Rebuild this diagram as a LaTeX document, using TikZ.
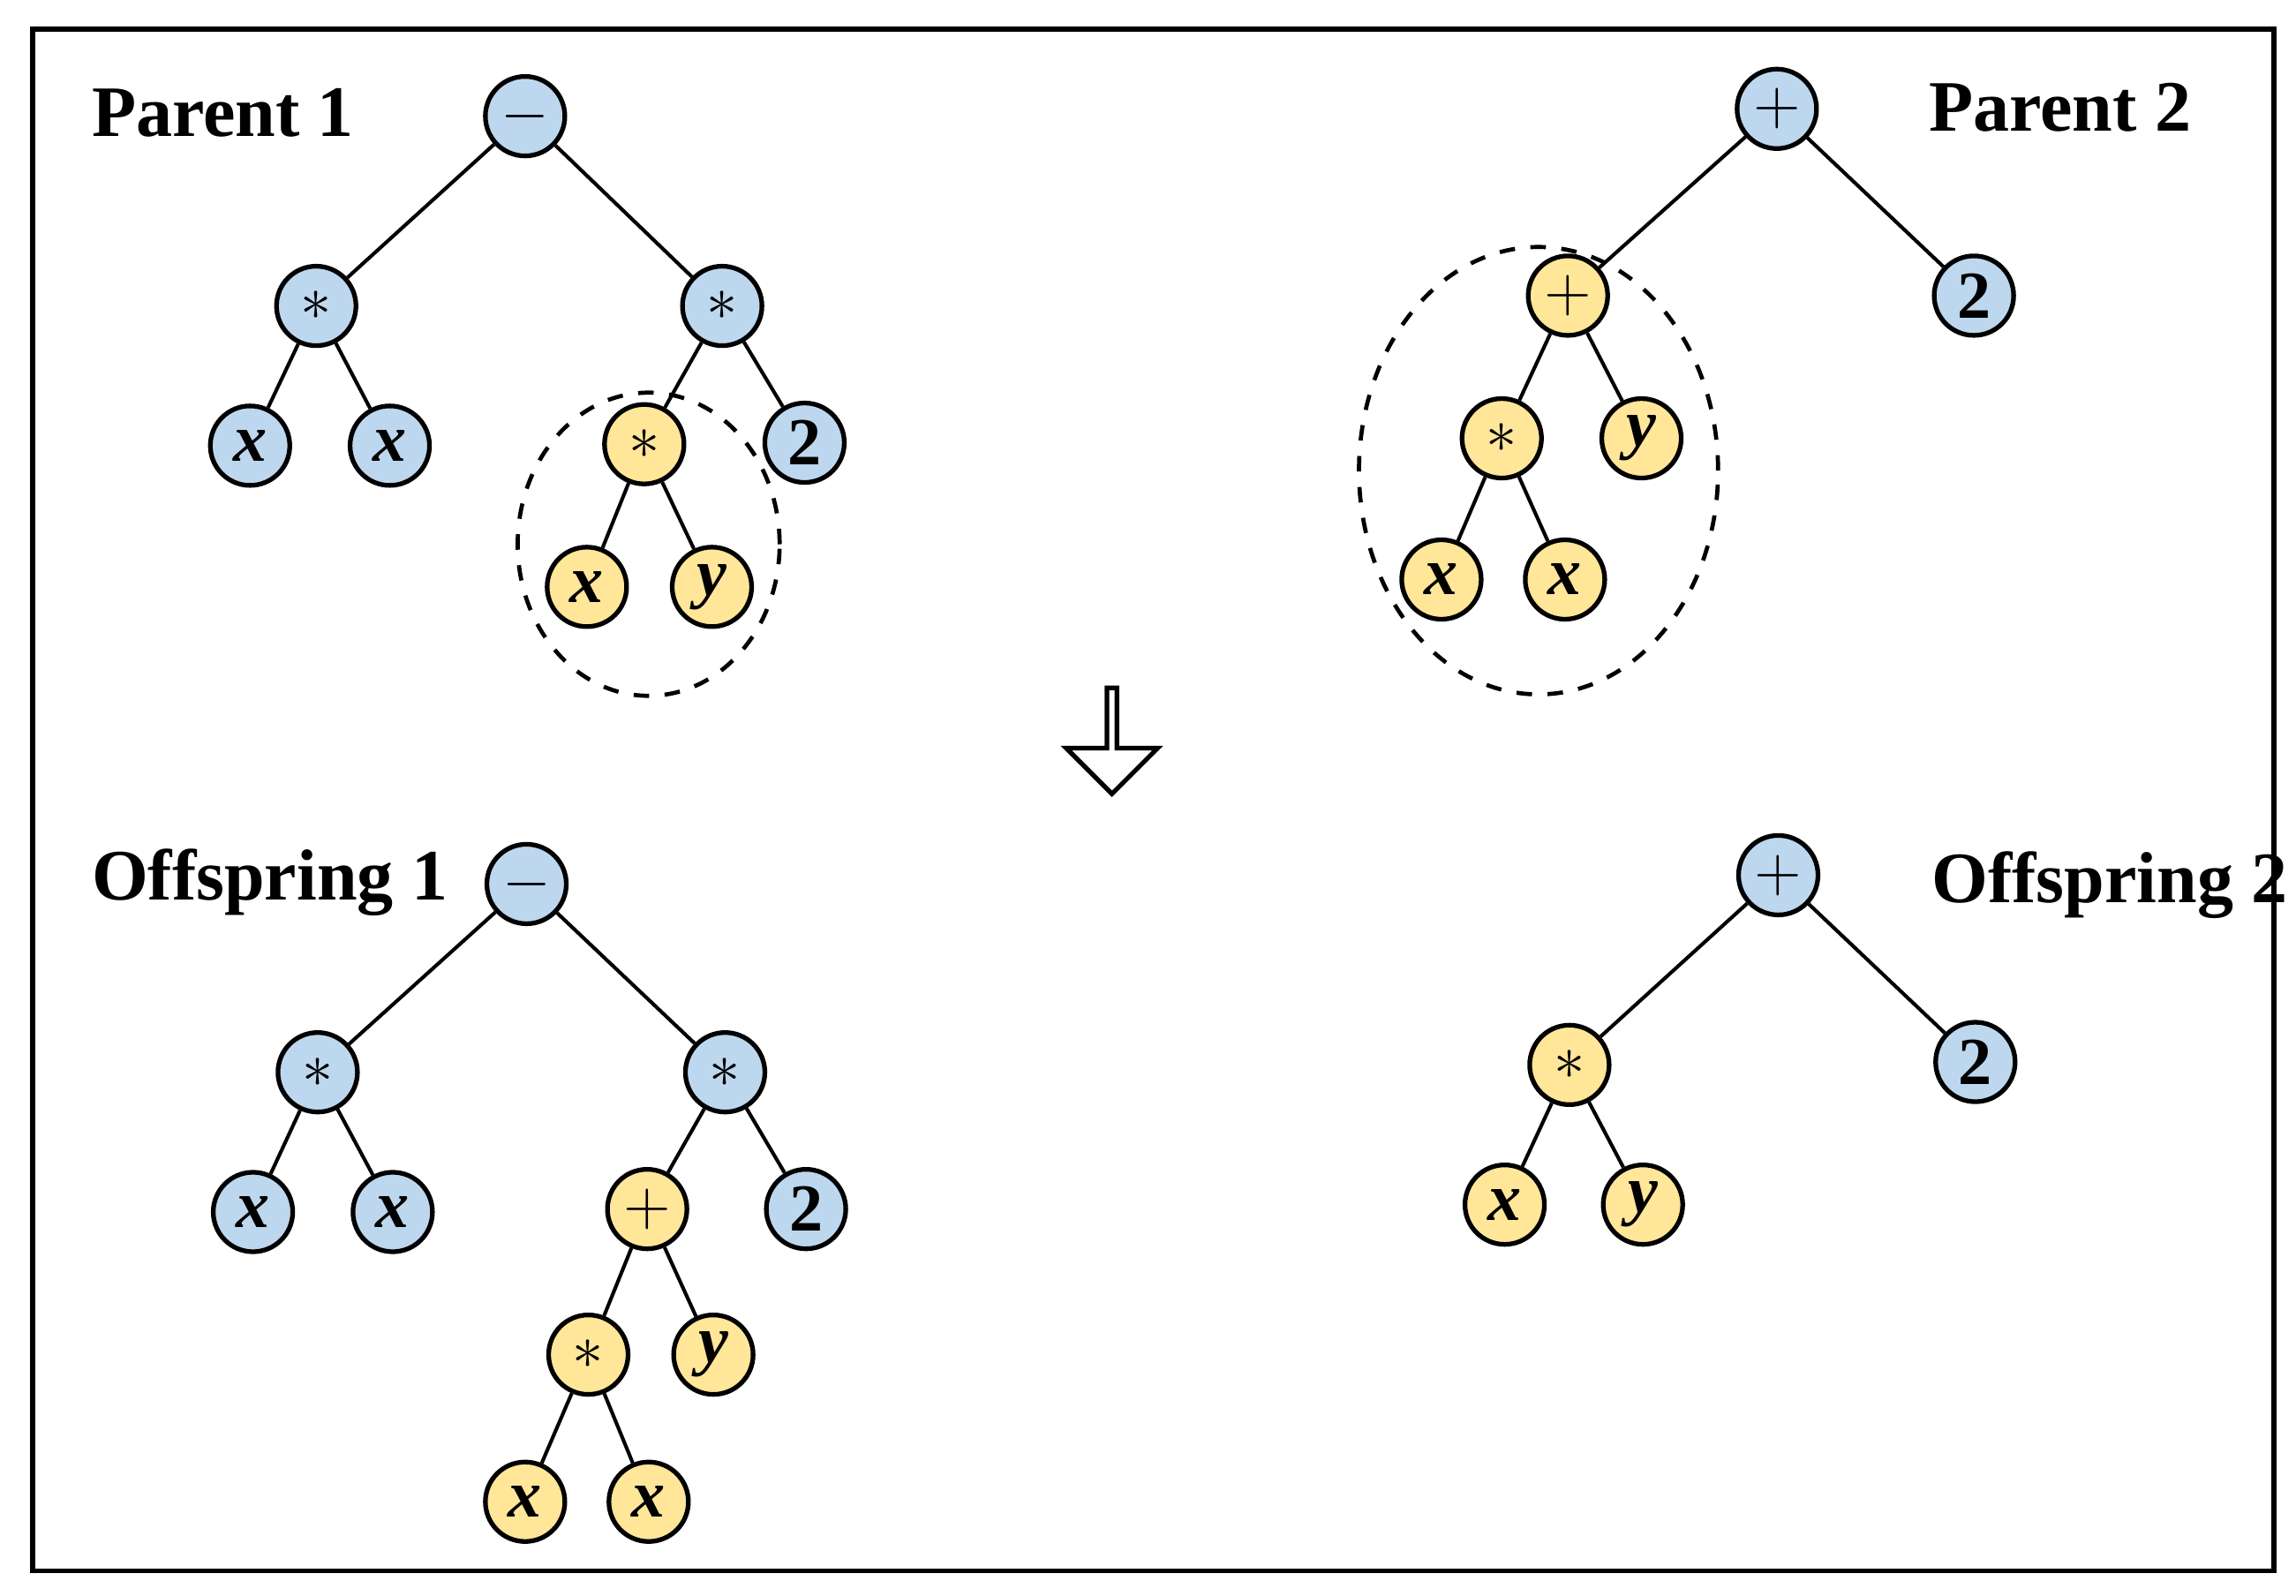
\documentclass[tikz,border=0pt]{standalone}
\usepackage{fontspec}
\setmainfont{Liberation Serif}
\usetikzlibrary{shapes.arrows,shapes.geometric}
\definecolor{bl}{HTML}{BDD7EE}
\definecolor{yl}{HTML}{FFE699}
\begin{document}
\begin{tikzpicture}[x=0.01cm,y=-0.01cm,
 n/.style={circle,draw,line width=0.9pt,minimum size=0.54cm,inner sep=0pt,font=\fontsize{13}{15}\selectfont\bfseries},
 bn/.style={n,fill=bl}, yn/.style={n,fill=yl},
 e/.style={line width=0.7pt},
 lab/.style={anchor=west,font=\fontsize{14}{16}\selectfont\bfseries},
 dsh/.style={dashed,line width=0.8pt}]
\useasboundingbox (0,0) rectangle (1561,1085);
\draw[line width=1pt] (22,20) rectangle (1546,1068);
% Parent 1
\node[lab] (l1) at (50,77) {Parent 1};
\node[bn] (a) at (357,79) {$-$};
\node[bn] (a1) at (215,208) {$*$};
\node[bn] (a2) at (491,208) {$*$};
\node[bn] (a11) at (170,303) {\textit{x}};
\node[bn] (a12) at (265,303) {\textit{x}};
\node[yn] (a21) at (438,302) {$*$};
\node[bn] (a22) at (547,301) {2};
\node[yn] (a211) at (399,399) {\textit{x}};
\node[yn] (a212) at (484,399) {\textit{y}};
\draw[e] (a)--(a1) (a)--(a2) (a1)--(a11) (a1)--(a12) (a2)--(a21) (a2)--(a22) (a21)--(a211) (a21)--(a212);
\node[draw,dsh,ellipse,minimum width=1.78cm,minimum height=2.06cm] (el1) at (441,370) {};
% Parent 2
\node[lab] (l2) at (1299,73) {Parent 2};
\node[bn] (p) at (1208,74) {$+$};
\node[yn] (p1) at (1066,201) {$+$};
\node[bn] (p2) at (1342,201) {2};
\node[yn] (p11) at (1021,298) {$*$};
\node[yn] (p12) at (1116,298) {\textit{y}};
\node[yn] (p111) at (980,394) {\textit{x}};
\node[yn] (p112) at (1064,394) {\textit{x}};
\draw[e] (p)--(p1) (p)--(p2) (p1)--(p11) (p1)--(p12) (p11)--(p111) (p11)--(p112);
\node[draw,dsh,ellipse,minimum width=2.44cm,minimum height=3.04cm] (el2) at (1046,320) {};
% arrow
\node[draw,line width=0.9pt,single arrow,shape border rotate=270,minimum width=0.62cm,minimum height=0.72cm,single arrow head extend=0.13cm,inner sep=0pt,fill=white] (arr) at (756,502) {};
% Offspring 1
\node[lab] (l3) at (50,600) {Offspring 1};
\node[bn] (o) at (358,601) {$-$};
\node[bn] (o1) at (216,729) {$*$};
\node[bn] (o2) at (493,729) {$*$};
\node[bn] (o11) at (172,824) {\textit{x}};
\node[bn] (o12) at (267,824) {\textit{x}};
\node[yn] (o21) at (440,822) {$+$};
\node[bn] (o22) at (548,822) {2};
\node[yn] (o211) at (400,921) {$*$};
\node[yn] (o212) at (485,921) {\textit{y}};
\node[yn] (o2111) at (357,1021) {\textit{x}};
\node[yn] (o2112) at (441,1021) {\textit{x}};
\draw[e] (o)--(o1) (o)--(o2) (o1)--(o11) (o1)--(o12) (o2)--(o21) (o2)--(o22) (o21)--(o211) (o21)--(o212) (o211)--(o2111) (o211)--(o2112);
% Offspring 2
\node[lab] (l4) at (1301,602) {Offspring 2};
\node[bn] (q) at (1209,595) {$+$};
\node[yn] (q1) at (1067,724) {$*$};
\node[bn] (q2) at (1343,722) {2};
\node[yn] (q11) at (1023,819) {\textit{x}};
\node[yn] (q12) at (1117,819) {\textit{y}};
\draw[e] (q)--(q1) (q)--(q2) (q1)--(q11) (q1)--(q12);
\end{tikzpicture}
\end{document}
